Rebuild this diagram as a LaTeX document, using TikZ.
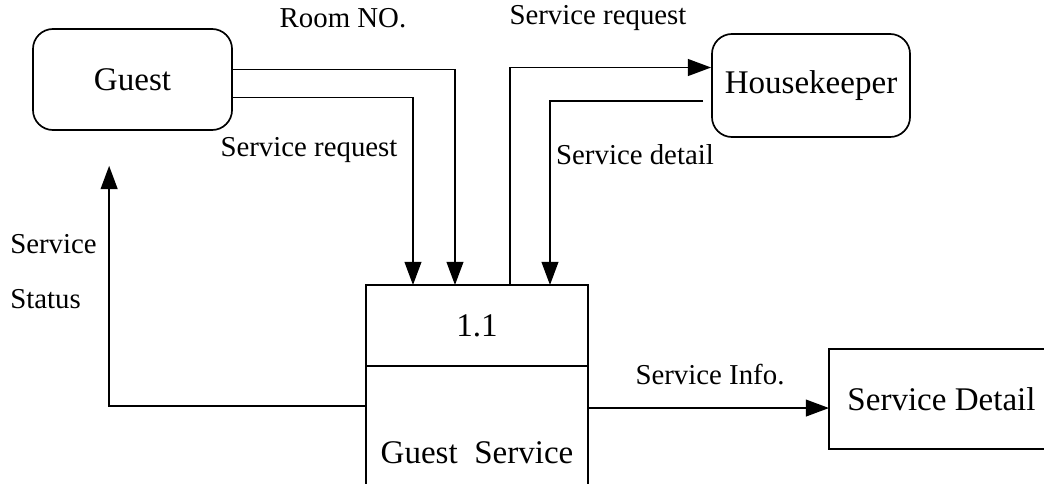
\documentclass[tikz,border=0pt]{standalone}
\usepackage{fontspec}
\setmainfont{Liberation Serif}
\usepackage{tikz}
\usetikzlibrary{
    arrows.meta,
    calc,
    positioning
}

\newcommand{\boxfont}{\fontsize{23.5}{28}\selectfont}
\newcommand{\lblfont}{\fontsize{20.5}{24}\selectfont}

\tikzset{
    entity/.style={draw, line width=1.2pt, rounded corners=0.5cm, minimum width=4.975cm, minimum height=2.525cm, font=\boxfont},
    procbox/.style={draw, line width=1.2pt, minimum width=5.55cm, inner sep=0pt, outer sep=0pt},
    flow/.style={line width=1.2pt, -{Triangle[length=0.58cm, width=0.42cm]}},
    lbl/.style={font=\lblfont, inner sep=0pt}
}

\begin{document}
\begin{tikzpicture}[x=0.025cm, y=-0.025cm]
    \useasboundingbox (0, 0) rectangle (1044, 483);
    \clip (0, 0) rectangle (1044, 483);

    \node[entity] (guest) at (132.5, 79.5) {Guest};
    \node[entity, minimum width=4.95cm, minimum height=2.575cm] (keeper) at (811, 85.5) {Housekeeper};

    \begin{scope}
        \node[procbox, minimum height=2.025cm, font=\boxfont] (procid) at (477, 325.5) {1.1};
        \node[procbox, minimum height=3.85cm, anchor=north] (procbody) at (procid.south) {};
        \node[font=\boxfont] (procname) at (477, 453) {Guest\ \ Service};
    \end{scope}
    \node[procbox, minimum width=5.625cm, minimum height=2.5cm, font=\boxfont] (store) at (941.5, 399) {Service Detail};

    \draw[flow] ($(guest.east)+(0, -10)$) -| ($(procid.north west)+(89, 0)$);
    \draw[flow] ($(guest.east)+(0, 18)$) -| ($(procid.north west)+(47, 0)$);
    \draw[flow] ($(procid.north west)+(144, 0)$) |- ($(keeper.west)+(0, -18)$);
    \draw[flow] ($(keeper.west)+(-8, 15.5)$) -| ($(procid.north west)+(184, 0)$);
    \coordinate (statustip) at ($(guest.south west)+(77, 35)$);
    \draw[flow] ($(procbody.west)+(0, -37)$) -| (statustip);
    \draw[flow] ($(procbody.east)+(0, -35)$) coordinate (infostart) -- (infostart -| store.west);

    \node[lbl] (roomlbl) at (343, 18) {Room NO.};
    \node[lbl] (reqlbl) at (309, 150) {Service request};
    \node[lbl] (hkreqlbl) at (598, 18) {Service request};
    \node[lbl] (detaillbl) at (635, 155) {Service detail};
    \node[lbl, anchor=west, align=left, font=\fontsize{20.5}{39}\selectfont] (statuslbl) at (10, 272) {Service\\Status};
    \node[lbl] (infolbl) at (710, 375) {Service Info.};
\end{tikzpicture}
\end{document}
